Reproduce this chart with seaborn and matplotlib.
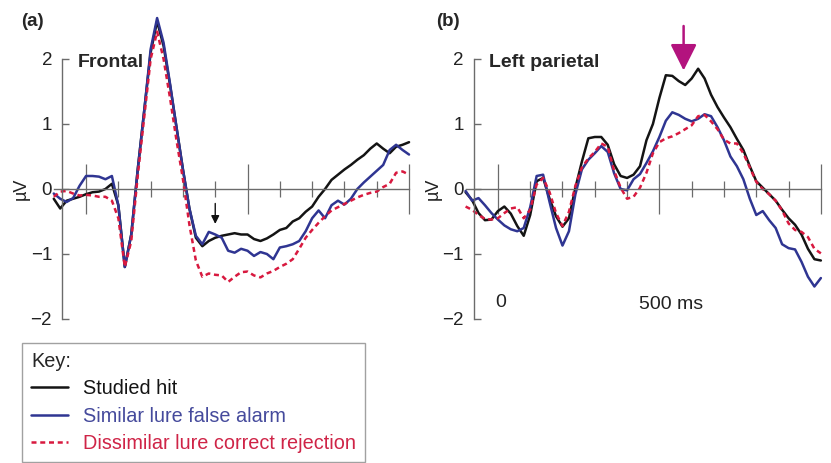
import numpy as np
import pandas as pd
import matplotlib
matplotlib.use("Agg")
import matplotlib.pyplot as plt
import seaborn as sns

# time axis (ms), shared by both panels
times = list(range(-100, 1001, 20))

conditions = ["Studied hit", "Similar lure false alarm", "Dissimilar lure correct rejection"]

# (a) Frontal, amplitudes in microvolts
frontal_hit = [-0.15, -0.30, -0.18, -0.15, -0.12, -0.08, -0.05, -0.04, 0.00, 0.08,
               -0.25, -1.20, -0.70, 0.30, 1.20, 2.10, 2.58, 2.20, 1.60, 0.95,
               0.30, -0.30, -0.75, -0.88, -0.80, -0.75, -0.72, -0.70, -0.68, -0.70,
               -0.70, -0.77, -0.80, -0.76, -0.70, -0.63, -0.60, -0.50, -0.45, -0.35,
               -0.27, -0.12, 0.00, 0.14, 0.22, 0.30, 0.37, 0.45, 0.52, 0.62,
               0.70, 0.62, 0.55, 0.65, 0.68, 0.72]
frontal_similar = [-0.07, -0.15, -0.20, -0.14, 0.05, 0.20, 0.20, 0.19, 0.15, 0.20,
                   -0.25, -1.20, -0.70, 0.30, 1.20, 2.15, 2.63, 2.25, 1.62, 0.95,
                   0.30, -0.30, -0.72, -0.85, -0.66, -0.70, -0.75, -0.95, -0.98, -0.92,
                   -0.95, -1.03, -0.97, -1.00, -1.08, -0.90, -0.88, -0.85, -0.80, -0.65,
                   -0.45, -0.33, -0.45, -0.25, -0.18, -0.24, -0.15, 0.00, 0.10, 0.19,
                   0.28, 0.37, 0.60, 0.68, 0.60, 0.53]
frontal_dissimilar = [-0.12, -0.04, -0.03, -0.07, -0.10, -0.09, -0.10, -0.12, -0.12, -0.18,
                      -0.45, -1.20, -0.80, 0.20, 1.10, 2.00, 2.42, 2.00, 1.40, 0.75,
                      0.15, -0.55, -1.10, -1.35, -1.30, -1.32, -1.33, -1.43, -1.35, -1.28,
                      -1.27, -1.33, -1.36, -1.30, -1.26, -1.20, -1.15, -1.08, -0.92, -0.75,
                      -0.63, -0.52, -0.42, -0.33, -0.28, -0.23, -0.18, -0.13, -0.09, -0.06,
                      -0.04, 0.03, 0.08, 0.25, 0.27, 0.22]

# (b) Left parietal
parietal_hit = [-0.05, -0.17, -0.37, -0.48, -0.47, -0.34, -0.27, -0.38, -0.57, -0.72,
                -0.40, 0.12, 0.17, -0.15, -0.42, -0.58, -0.45, 0.02, 0.42, 0.78,
                0.80, 0.80, 0.68, 0.38, 0.20, 0.17, 0.22, 0.35, 0.75, 1.00,
                1.40, 1.75, 1.74, 1.66, 1.60, 1.70, 1.85, 1.70, 1.45, 1.26,
                1.10, 0.95, 0.77, 0.60, 0.35, 0.12, 0.02, -0.08, -0.18, -0.32,
                -0.45, -0.55, -0.70, -0.92, -1.08, -1.10]
parietal_similar = [-0.03, -0.18, -0.14, -0.25, -0.37, -0.47, -0.56, -0.62, -0.65, -0.60,
                    -0.28, 0.20, 0.22, -0.20, -0.60, -0.87, -0.65, -0.08, 0.30, 0.45,
                    0.55, 0.66, 0.57, 0.24, 0.00, -0.02, 0.15, 0.23, 0.40, 0.58,
                    0.80, 1.05, 1.18, 1.14, 1.08, 1.04, 1.08, 1.15, 1.12, 0.95,
                    0.75, 0.50, 0.35, 0.15, -0.15, -0.40, -0.34, -0.48, -0.60, -0.85,
                    -0.91, -0.93, -1.12, -1.35, -1.50, -1.37]
parietal_dissimilar = [-0.27, -0.32, -0.40, -0.46, -0.47, -0.45, -0.37, -0.30, -0.28, -0.45,
                       -0.32, 0.07, 0.17, -0.05, -0.37, -0.57, -0.35, 0.05, 0.33, 0.47,
                       0.57, 0.70, 0.65, 0.28, 0.02, -0.15, -0.12, 0.02, 0.25, 0.55,
                       0.72, 0.78, 0.81, 0.86, 0.92, 0.98, 1.12, 1.14, 1.04, 0.92,
                       0.76, 0.70, 0.70, 0.55, 0.33, 0.11, 0.00, -0.08, -0.18, -0.33,
                       -0.53, -0.63, -0.66, -0.74, -0.92, -0.99]

line_colors = {"Studied hit": "#141414",
               "Similar lure false alarm": "#2f3592",
               "Dissimilar lure correct rejection": "#d8193f"}
text_colors = ["#141414", "#454a9c", "#cf2447"]
dash_map = {"Studied hit": "", "Similar lure false alarm": "",
            "Dissimilar lure correct rejection": (2.0, 1.5)}


def long_frame(series):
    rows = []
    for cond, vals in zip(conditions, series):
        for t, v in zip(times, vals):
            rows.append((t, v, cond))
    return pd.DataFrame(rows, columns=["time", "amp", "condition"])


def style_axis(ax):
    ax.set_xlim(-110, 1010)
    ax.set_ylim(-2.05, 2.75)
    for side in ["top", "right"]:
        ax.spines[side].set_visible(False)
    grey = "#6b6b6b"
    ax.spines["left"].set_position(("data", -75))
    ax.spines["left"].set_bounds(-2, 2)
    ax.spines["bottom"].set_position(("data", 0))
    ax.spines["bottom"].set_bounds(-100, 1000)
    for side in ["left", "bottom"]:
        ax.spines[side].set_color(grey)
        ax.spines[side].set_linewidth(1.0)
    ax.set_yticks([-2, -1, 0, 1, 2])
    ax.set_yticklabels(["\u22122", "\u22121", "0", "1", "2"])
    ax.tick_params(axis="y", left=True, direction="in", length=5, width=1.0, color=grey,
                   pad=7, labelsize=13.5, labelcolor="#222222")
    ax.set_xticks([0, 500, 1000])
    ax.set_xticks([100, 200, 300, 400, 600, 700, 800, 900], minor=True)
    ax.set_xticklabels([])
    ax.tick_params(axis="x", which="major", bottom=True, direction="inout",
                   length=36, width=0.9, color=grey)
    ax.tick_params(axis="x", which="minor", bottom=True, direction="inout",
                   length=12, width=0.9, color=grey)
    ax.set_xlabel("")
    ax.set_ylabel("")
    ax.text(-200, 0, "\u00b5V", rotation=90, ha="center", va="center", fontsize=13, color="#222222")


sns.set_theme(style="white")
plt.rcParams["font.family"] = ["Liberation Sans", "DejaVu Sans"]

fig = plt.figure(figsize=(8.31, 4.63), dpi=100)
ax_a = fig.add_axes([0.0608, 0.304, 0.4353, 0.6739])
ax_b = fig.add_axes([0.5564, 0.304, 0.4353, 0.6739])

panels = [(ax_a, [frontal_hit, frontal_similar, frontal_dissimilar], "Frontal"),
          (ax_b, [parietal_hit, parietal_similar, parietal_dissimilar], "Left parietal")]

for ax, series, name in panels:
    df = long_frame(series)
    sns.lineplot(data=df, x="time", y="amp", hue="condition", style="condition",
                 hue_order=conditions, style_order=conditions, palette=line_colors,
                 dashes=dash_map, estimator=None, sort=True, linewidth=1.8,
                 legend=False, ax=ax)
    style_axis(ax)
    ax.text(-27, 1.95, name, fontsize=14, fontweight="bold", ha="left", va="center")

# arrows marking the effects
ax_a.annotate("", xy=(400, -0.58), xytext=(400, -0.18),
              arrowprops=dict(arrowstyle="-|>", color="#111111", lw=1.0, mutation_scale=12))
ax_b.annotate("", xy=(575, 1.78), xytext=(575, 2.55),
              arrowprops=dict(arrowstyle="-|>,head_width=0.45,head_length=0.9",
                              color="#b3137e", lw=1.8, mutation_scale=18))

ax_b.text(8, -1.75, "0", fontsize=14, ha="center", va="center", color="#222222")
ax_b.text(535, -1.78, "500 ms", fontsize=14, ha="center", va="center", color="#222222")

fig.text(21 / 831, 1 - 22 / 463, "(a)", fontsize=13.5, fontweight="bold", va="center", ha="left")
fig.text(436 / 831, 1 - 22 / 463, "(b)", fontsize=13.5, fontweight="bold", va="center", ha="left")

handles = ax_a.get_lines()[:3]
leg = fig.legend(handles, conditions, title="Key:", loc="lower left",
                 bbox_to_anchor=(22 / 831, 1 / 463), fontsize=14.3, title_fontsize=14.3,
                 frameon=True, fancybox=False, edgecolor="#8a8a8a", alignment="left",
                 handlelength=1.85, handletextpad=0.75, labelspacing=0.42,
                 borderpad=0.45, borderaxespad=0)
leg.get_frame().set_linewidth(1.0)
for txt, c in zip(leg.get_texts(), text_colors):
    txt.set_color(c)

fig.savefig("out.png", dpi=100)
